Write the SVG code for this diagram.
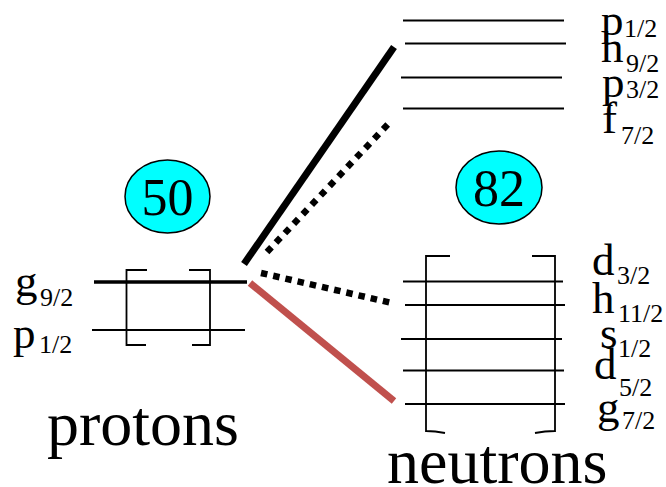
<svg xmlns="http://www.w3.org/2000/svg" width="666" height="487" viewBox="0 0 666 487">
<style>
text{font-family:"Liberation Serif","Times New Roman",serif;fill:#000}
.m{font-size:45px}
.s{font-size:26px}
.big{font-size:64px}
.num{font-size:52px}
.lv{stroke:#000;stroke-width:2;fill:none}
.lvt{stroke:#000;stroke-width:3.5;fill:none}
.br{stroke:#000;stroke-width:1.8;fill:none}
.el{fill:#00FFFF;stroke:#000;stroke-width:1.5}
</style>
<rect width="666" height="487" fill="#fff"/>
<g id="protons">
<line class="lvt" x1="94" y1="282" x2="247" y2="282"/>
<line class="lv" x1="92" y1="330" x2="245" y2="330"/>
<path class="br" d="M147,270 H126.5 V345 H146"/>
<path class="br" d="M189,270 H210 V345 H192"/>
<text class="m" x="15" y="296">g</text><text class="s" x="40" y="306">9/2</text>
<text class="m" x="13" y="348">p</text><text class="s" x="39" y="353">1/2</text>
<text class="big" x="47" y="445">protons</text>
</g>
<g id="magic50">
<ellipse class="el" cx="167.5" cy="196.5" rx="42.5" ry="36.5"/>
<text class="num" x="167.5" y="215" text-anchor="middle">50</text>
</g>
<g id="neutrons-upper">
<line class="lv" x1="403" y1="20.5" x2="564" y2="20.5" stroke-width="2.8"/>
<line class="lv" x1="405" y1="43.5" x2="566" y2="43.5"/>
<line class="lv" x1="401" y1="77.5" x2="562" y2="77.5"/>
<line class="lv" x1="403" y1="108.5" x2="564" y2="108.5"/>
<text class="m" x="601" y="35">p</text><text class="s" x="624" y="37">1/2</text>
<text class="m" x="601" y="62">h</text><text class="s" x="626" y="72">9/2</text>
<text class="m" x="602" y="97">p</text><text class="s" x="626" y="98">3/2</text>
<text class="m" x="602" y="133">f</text><text class="s" x="621" y="144">7/2</text>
</g>
<g id="neutrons-lower">
<line class="lv" x1="403" y1="281.5" x2="563" y2="281.5"/>
<line class="lv" x1="405" y1="305" x2="565" y2="305" stroke-width="3"/>
<line class="lv" x1="401" y1="339" x2="562" y2="339"/>
<line class="lv" x1="403" y1="370.5" x2="564" y2="370.5"/>
<line class="lv" x1="405" y1="404" x2="565" y2="404"/>
<path class="br" d="M450,256 H426 V431 Q435,431 445,433"/>
<path class="br" d="M532,256 H555 V431 Q545,431 535,433"/>
<text class="m" x="592" y="275">d</text><text class="s" x="617" y="284">3/2</text>
<text class="m" x="592" y="313">h</text><text class="s" x="618" y="322">11/2</text>
<text class="m" x="600" y="348">s</text><text class="s" x="618" y="357">1/2</text>
<text class="m" x="594" y="379">d</text><text class="s" x="619" y="396">5/2</text>
<text class="m" x="597" y="422">g</text><text class="s" x="622" y="429">7/2</text>
<text class="big" x="387" y="483">neutrons</text>
</g>
<g id="magic82">
<ellipse class="el" cx="499" cy="187.5" rx="43" ry="36.5"/>
<text class="num" x="499" y="206" text-anchor="middle">82</text>
</g>
<g id="connectors">
<line x1="244" y1="264" x2="394" y2="47" stroke="#000" stroke-width="7"/>
<line x1="267" y1="252" x2="392" y2="120" stroke="#000" stroke-width="6.5" stroke-dasharray="6.5 6.5"/>
<line x1="261" y1="273" x2="392" y2="303" stroke="#000" stroke-width="6.5" stroke-dasharray="6.5 6"/>
<line x1="250" y1="283" x2="394" y2="401" stroke="#C0504D" stroke-width="7"/>
</g>
</svg>
